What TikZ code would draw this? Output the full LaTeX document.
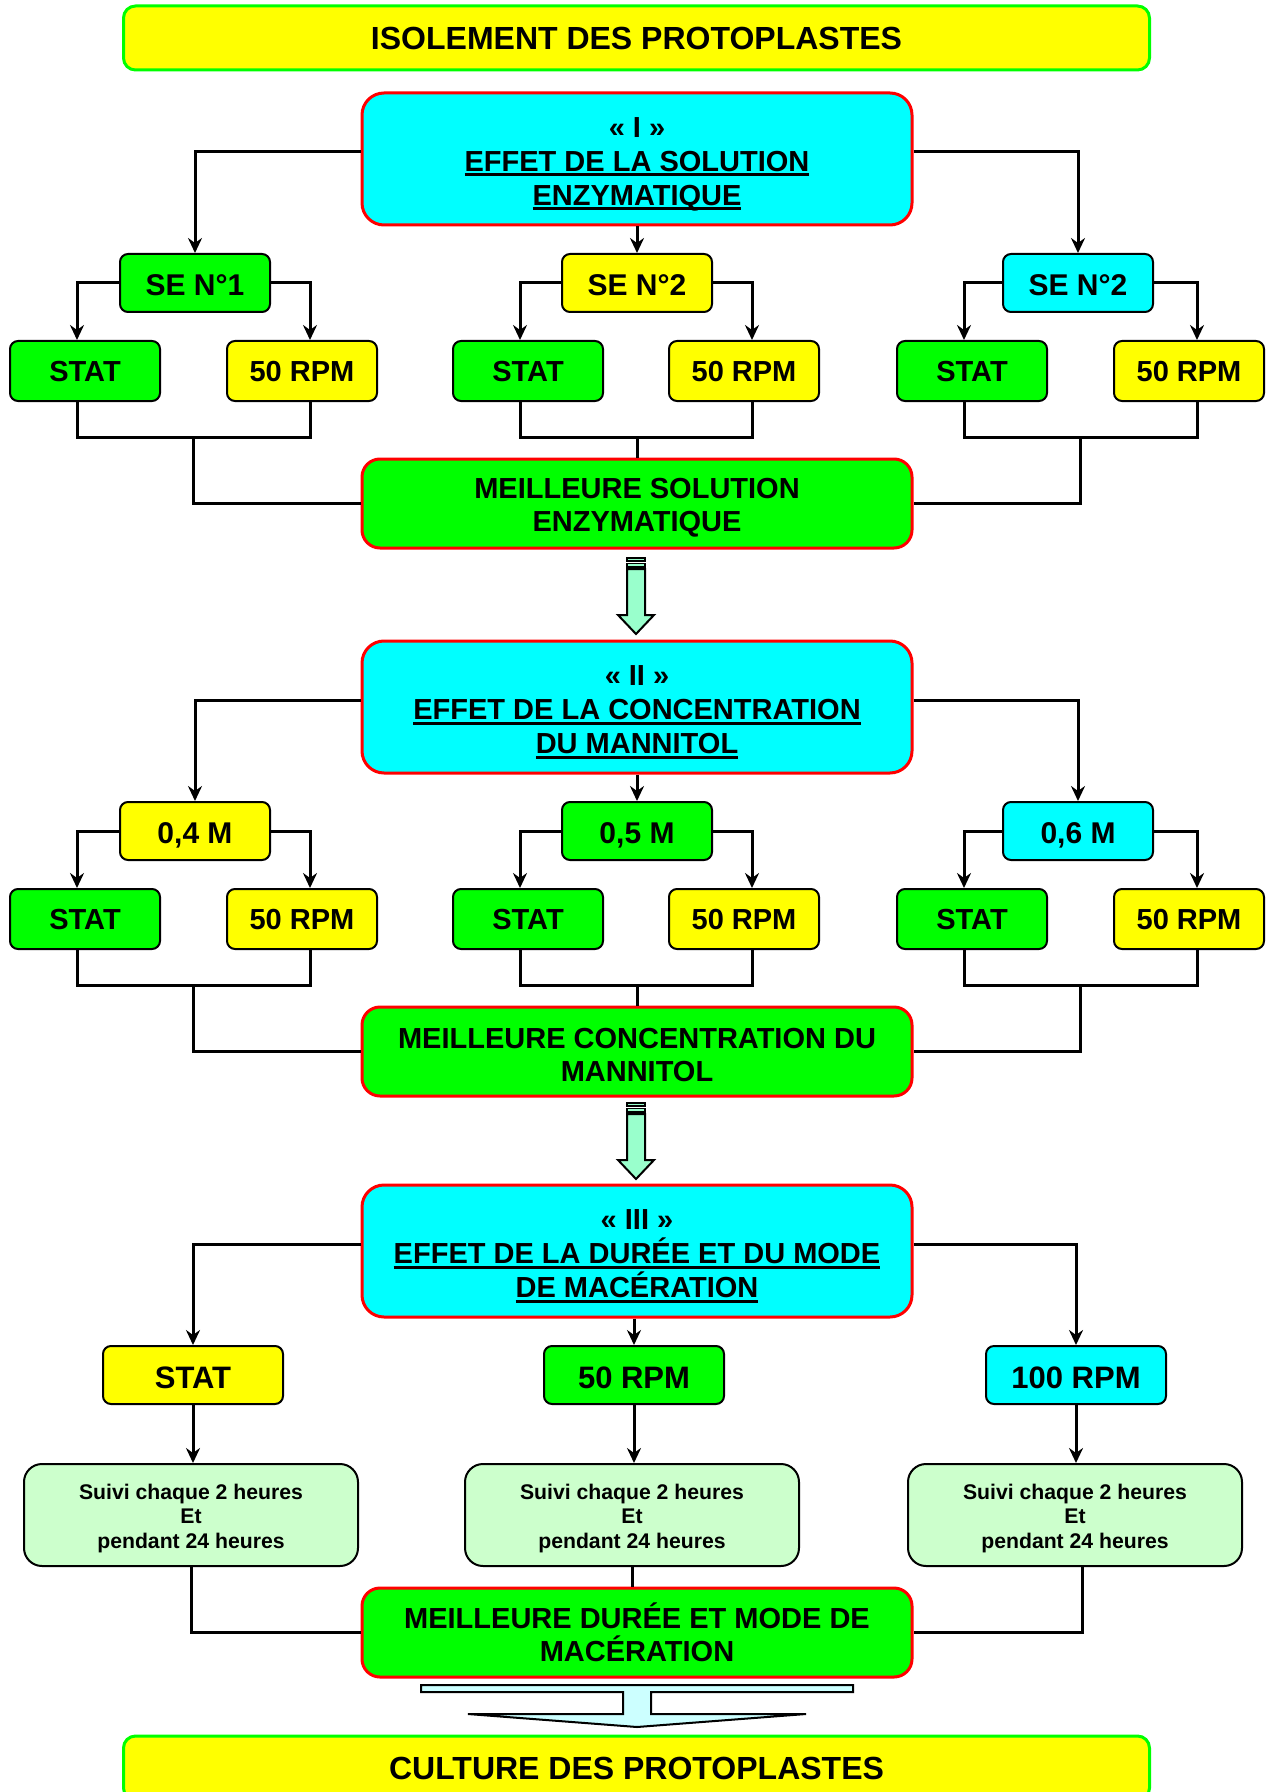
\documentclass[tikz,border=0pt]{standalone}
\usepackage{fontspec}
\setmainfont{Liberation Sans}
\usetikzlibrary{arrows.meta}
\definecolor{cY}{HTML}{FFFF00}
\definecolor{cG}{HTML}{00FF00}
\definecolor{cC}{HTML}{00FFFF}
\definecolor{cR}{HTML}{FF0000}
\definecolor{cLG}{HTML}{CCFFCC}
\definecolor{cAQ}{HTML}{99FFCC}
\definecolor{cLC}{HTML}{CCFFFF}
\newcommand\myul[1]{\setbox0\hbox{#1}\rlap{\vrule width\wd0 height -1.0pt depth 2.5pt}\box0}
\newcommand\dn[1]{\rule{0pt}{#1}}
\newcommand\blockarr[1]{%
  \begin{scope}[shift={(0,#1)}]
    \draw[fill=cAQ,line width=1pt,line join=miter] (627,569) -- (645,569) -- (645,615) -- (654,615) -- (636,634) -- (618,615) -- (627,615) -- cycle;
    \draw[fill=cAQ,line width=0.8pt] (627,558) rectangle (645,561);
    \draw[fill=cAQ,line width=0.8pt] (627,563.5) rectangle (645,567);
  \end{scope}}
\begin{document}
\begin{tikzpicture}[x=0.5pt,y=-0.5pt,
  every node/.style={inner sep=0pt,align=center},
  titlebox/.style={fill=cY,draw=cG,line width=1.5pt,rounded corners=6pt,minimum width=513pt,minimum height=32pt,font=\fontsize{16}{19}\selectfont\bfseries,text height=11.5pt,text depth=0pt},
  bigbox/.style={fill=cC,draw=cR,line width=1.5pt,rounded corners=11pt,minimum width=275pt,minimum height=66pt,font=\fontsize{14.5}{17}\selectfont\bfseries},
  bestbox/.style={fill=cG,draw=cR,line width=1.5pt,rounded corners=9pt,minimum width=275pt,minimum height=44.5pt,font=\fontsize{14.5}{16.5}\selectfont\bfseries},
  sebox/.style={draw=black,line width=1pt,rounded corners=4pt,minimum width=75pt,minimum height=29pt,font=\fontsize{15}{18}\selectfont\bfseries,text height=12.5pt,text depth=0pt},
  subbox/.style={draw=black,line width=1pt,rounded corners=4pt,minimum width=75pt,minimum height=30pt,font=\fontsize{14.5}{17}\selectfont\bfseries,text height=10.8pt,text depth=0pt},
  rbox/.style={draw=black,line width=1pt,rounded corners=4pt,minimum width=90pt,minimum height=29pt,font=\fontsize{15.5}{18}\selectfont\bfseries,text height=13pt,text depth=0pt},
  lgbox/.style={fill=cLG,draw=black,line width=1pt,rounded corners=9pt,minimum width=167pt,minimum height=51pt,font=\fontsize{10.6}{12.25}\selectfont\bfseries},
  conn/.style={line width=1.5pt},
  arr/.style={conn,-{Stealth[length=7.5pt,width=7pt,inset=2.5pt]}}]
\useasboundingbox (0,0) rectangle (1275,1792);
\clip (0,0) rectangle (1275,1792);

% ---------- titles ----------
\node[titlebox] (top) at (636.5,38) {ISOLEMENT DES PROTOPLASTES};

% ---------- block I ----------
\node[bigbox] (b1) at (637,159) {\dn{15pt}« I »\\\myul{EFFET DE LA SOLUTION}\\\myul{ENZYMATIQUE}};
\node[sebox,fill=cG] (se1) at (195,283) {SE N°1};
\node[sebox,fill=cY] (se2) at (637,283) {SE N°2};
\node[sebox,fill=cC] (se3) at (1078,283) {SE N°2};
\node[subbox,fill=cG] (s11) at (85,371) {STAT};
\node[subbox,fill=cY] (r11) at (302,371) {50 RPM};
\node[subbox,fill=cG] (s12) at (528,371) {STAT};
\node[subbox,fill=cY] (r12) at (744,371) {50 RPM};
\node[subbox,fill=cG] (s13) at (972,371) {STAT};
\node[subbox,fill=cY] (r13) at (1189,371) {50 RPM};
\node[bestbox] (best1) at (637,503.5) {\dn{14.6pt}MEILLEURE SOLUTION\\ENZYMATIQUE};

\draw[arr] ([yshift=3.5pt]b1.west) -| (se1.north);
\draw[arr] ([yshift=3.5pt]b1.east) -| (se3.north);
\draw[arr] (b1.south) -- (se2.north);
\draw[arr] (se1.west) -| ([xshift=-4pt]s11.north);
\draw[arr] (se1.east) -| ([xshift=4pt]r11.north);
\draw[arr] (se2.west) -| ([xshift=-4pt]s12.north);
\draw[arr] (se2.east) -| ([xshift=4pt]r12.north);
\draw[arr] (se3.west) -| ([xshift=-4pt]s13.north);
\draw[arr] (se3.east) -| ([xshift=4pt]r13.north);
\coordinate (j11) at (193,437);
\coordinate (j12) at (637,437);
\coordinate (j13) at (1080,437);
\draw[conn] ([xshift=-4pt]s11.south) |- (j11) -| ([xshift=4pt]r11.south);
\draw[conn] ([xshift=-4pt]s12.south) |- (j12) -| ([xshift=4pt]r12.south);
\draw[conn] ([xshift=-4pt]s13.south) |- (j13) -| ([xshift=4pt]r13.south);
\draw[conn] (j11) |- (best1.west);
\draw[conn] (j12) -- (best1.north);
\draw[conn] (j13) |- (best1.east);

\blockarr{0}

% ---------- block II ----------
\node[bigbox] (b2) at (637,707) {\dn{15pt}« II »\\\myul{EFFET DE LA CONCENTRATION}\\\myul{DU MANNITOL}};
\node[sebox,fill=cY] (m1) at (195,831) {0,4 M};
\node[sebox,fill=cG] (m2) at (637,831) {0,5 M};
\node[sebox,fill=cC] (m3) at (1078,831) {0,6 M};
\node[subbox,fill=cG] (s21) at (85,919) {STAT};
\node[subbox,fill=cY] (r21) at (302,919) {50 RPM};
\node[subbox,fill=cG] (s22) at (528,919) {STAT};
\node[subbox,fill=cY] (r22) at (744,919) {50 RPM};
\node[subbox,fill=cG] (s23) at (972,919) {STAT};
\node[subbox,fill=cY] (r23) at (1189,919) {50 RPM};
\node[bestbox] (best2) at (637,1051.5) {\dn{14pt}MEILLEURE CONCENTRATION DU\\MANNITOL};

\draw[arr] ([yshift=3.5pt]b2.west) -| (m1.north);
\draw[arr] ([yshift=3.5pt]b2.east) -| (m3.north);
\draw[arr] (b2.south) -- (m2.north);
\draw[arr] (m1.west) -| ([xshift=-4pt]s21.north);
\draw[arr] (m1.east) -| ([xshift=4pt]r21.north);
\draw[arr] (m2.west) -| ([xshift=-4pt]s22.north);
\draw[arr] (m2.east) -| ([xshift=4pt]r22.north);
\draw[arr] (m3.west) -| ([xshift=-4pt]s23.north);
\draw[arr] (m3.east) -| ([xshift=4pt]r23.north);
\coordinate (j21) at (193,985);
\coordinate (j22) at (637,985);
\coordinate (j23) at (1080,985);
\draw[conn] ([xshift=-4pt]s21.south) |- (j21) -| ([xshift=4pt]r21.south);
\draw[conn] ([xshift=-4pt]s22.south) |- (j22) -| ([xshift=4pt]r22.south);
\draw[conn] ([xshift=-4pt]s23.south) |- (j23) -| ([xshift=4pt]r23.south);
\draw[conn] (j21) |- (best2.west);
\draw[conn] (j22) -- (best2.north);
\draw[conn] (j23) |- (best2.east);

\blockarr{545}

% ---------- block III ----------
\node[bigbox] (b3) at (637,1251) {\dn{15pt}« III »\\\myul{EFFET DE LA DURÉE ET DU MODE}\\\myul{DE MACÉRATION}};
\node[rbox,fill=cY] (t1) at (193,1375) {STAT};
\node[rbox,fill=cG] (t2) at (634,1375) {50 RPM};
\node[rbox,fill=cC] (t3) at (1076,1375) {100 RPM};
\node[lgbox] (g1) at (191,1515) {\dn{11pt}Suivi chaque 2 heures\\Et\\pendant 24 heures};
\node[lgbox] (g2) at (632,1515) {\dn{11pt}Suivi chaque 2 heures\\Et\\pendant 24 heures};
\node[lgbox] (g3) at (1075,1515) {\dn{11pt}Suivi chaque 2 heures\\Et\\pendant 24 heures};
\node[bestbox] (best3) at (637,1632.5) {\dn{13pt}MEILLEURE DURÉE ET MODE DE\\MACÉRATION};

\draw[arr] ([yshift=3.5pt]b3.west) -| (t1.north);
\draw[arr] ([yshift=3.5pt]b3.east) -| (t3.north);
\draw[arr] (b3.south -| t2.north) -- (t2.north);
\draw[arr] (t1.south) -- (t1.south |- g1.north);
\draw[arr] (t2.south) -- (t2.south |- g2.north);
\draw[arr] (t3.south) -- (t3.south |- g3.north);
\draw[conn] (g1.south) |- (best3.west);
\draw[conn] (g2.south) -- (g2.south |- best3.north);
\draw[conn] ([xshift=3.5pt]g3.south) |- (best3.east);

% ---------- final arrow ----------
\draw[fill=cLC,line width=1pt,line join=miter] (421,1685) -- (853,1685) -- (853,1692) -- (651,1692) -- (651,1714) -- (806,1714) -- (637,1727) -- (468,1714) -- (623,1714) -- (623,1692) -- (421,1692) -- cycle;

\node[titlebox] (bottom) at (636.5,1768) {CULTURE DES PROTOPLASTES};
\end{tikzpicture}
\end{document}
